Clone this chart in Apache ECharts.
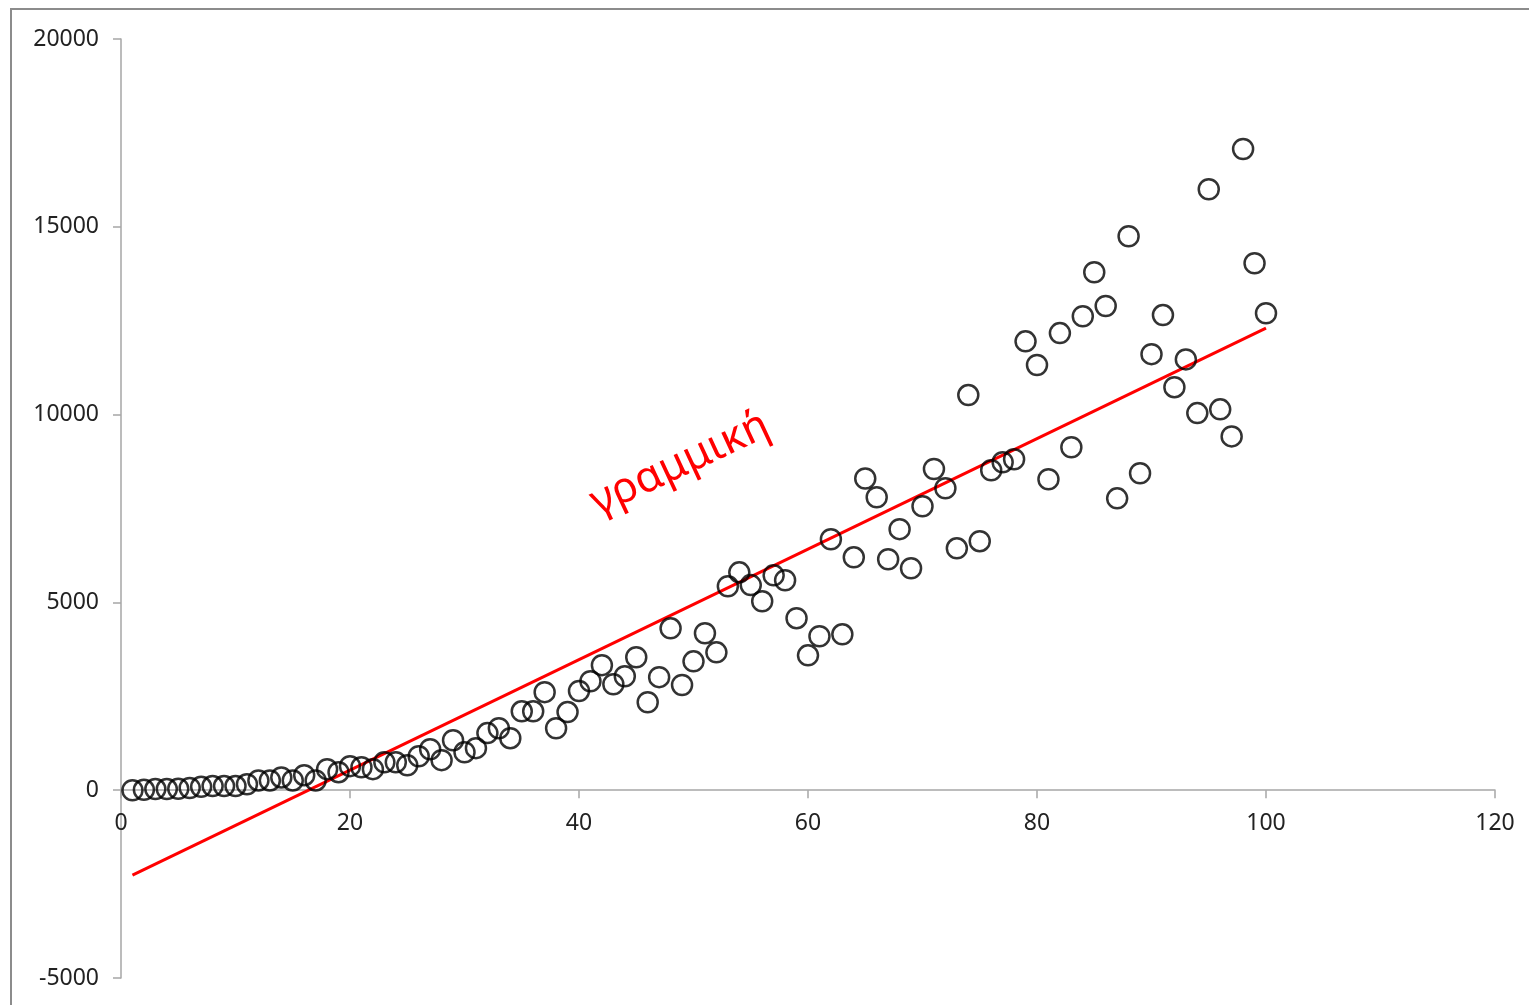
<!DOCTYPE html>
<html>
<head>
<meta charset="utf-8">
<script src="https://cdn.jsdelivr.net/npm/echarts@6/dist/echarts.min.js"></script>
<style>html,body{margin:0;padding:0;background:#fff}#c{width:1529px;height:1005px}</style>
</head>
<body>
<div id="c"></div>
<script>
const xValues = [1,2,3,4,5,6,7,8,9,10,11,12,13,14,15,16,17,18,19,20,21,22,23,24,25,26,27,28,29,30,31,32,33,34,35,36,37,38,39,40,41,42,43,44,45,46,47,48,49,50,51,52,53,54,55,56,57,58,59,60,61,62,63,64,65,66,67,68,69,70,71,72,73,74,75,76,77,78,79,80,81,82,83,84,85,86,87,88,89,90,91,92,93,94,95,96,97,98,99,100];
const yValues = [0,10,30,30,40,60,90,110,110,110,160,260,260,340,260,400,260,560,480,640,610,560,745,745,665,905,1090,800,1330,1010,1120,1520,1650,1385,2100,2100,2610,1650,2080,2640,2900,3330,2820,3035,3540,2340,3010,4310,2800,3430,4180,3670,5430,5800,5460,5030,5720,5590,4580,3590,4100,6680,4150,6200,8300,7800,6150,6950,5910,7560,8550,8040,6440,10520,6630,8520,8730,8810,11950,11320,8280,12170,9130,12620,13790,12890,7770,14750,8440,11610,12650,10730,11470,10040,16000,10140,9420,17070,14030,12700];
const trendX = [1, 100];
const trendY = [-2260, 12300];
const xTicks = [0, 20, 40, 60, 80, 100, 120];
const yTicks = [-5000, 0, 5000, 10000, 15000, 20000];
const labelText = 'γραμμική';

const gridTop = 39, gridBottom = 27, chartH = 1005;
const plotH = chartH - gridTop - gridBottom;
const yMin = yTicks[0], yMax = yTicks[yTicks.length - 1];
// distance of the zero line above the grid bottom, derived from the axis range
const zeroOffset = -plotH * (0 - yMin) / (yMax - yMin);

const chart = echarts.init(document.getElementById('c'));
const axisColor = '#a6a6a6';
chart.setOption({
  animation: false,
  grid: { left: 121, right: 34, top: gridTop, bottom: gridBottom, containLabel: false, outerBoundsMode: 'none' },
  xAxis: {
    type: 'value', min: xTicks[0], max: xTicks[xTicks.length-1], interval: 20,
    position: 'bottom', offset: zeroOffset,
    axisLine: { show: true, onZero: false, lineStyle: { color: axisColor, width: 1.5 } },
    axisTick: { show: true, length: 8, lineStyle: { color: axisColor, width: 1.5 } },
    axisLabel: { margin: 22, fontSize: 23, color: '#222', fontFamily: 'Noto Sans', formatter: v => String(v) },
    splitLine: { show: false }
  },
  yAxis: {
    type: 'value', min: yMin, max: yMax, interval: 5000,
    axisLine: { show: true, onZero: false, lineStyle: { color: axisColor, width: 1.5 } },
    axisTick: { show: true, length: 8, lineStyle: { color: axisColor, width: 1.5 } },
    axisLabel: { margin: 22, fontSize: 23, color: '#222', fontFamily: 'Noto Sans', formatter: v => String(v) },
    splitLine: { show: false }
  },
  series: [
    {
      type: 'line',
      data: trendX.map((x, i) => [x, trendY[i]]),
      showSymbol: false, symbol: 'none',
      lineStyle: { color: '#ff0000', width: 3 },
      z: 1
    },
    {
      type: 'scatter',
      data: xValues.map((x, i) => [x, yValues[i]]),
      symbol: 'circle', symbolSize: 20,
      itemStyle: { color: 'rgba(0,0,0,0)', borderColor: '#000', borderWidth: 2.5 },
      z: 2
    }
  ],
  graphic: [
    { type: 'rect', shape: { x: 11, y: 9, width: 1600, height: 1100 },
      style: { fill: 'none', stroke: '#8c8c8c', lineWidth: 2 }, silent: true },
    { type: 'text', x: 680, y: 464, rotation: 25 * Math.PI / 180,
      style: { text: labelText, fill: '#ff0000', fontSize: 43, fontFamily: 'Noto Sans', align: 'center', verticalAlign: 'middle' } }
  ]
});
</script>
</body>
</html>
